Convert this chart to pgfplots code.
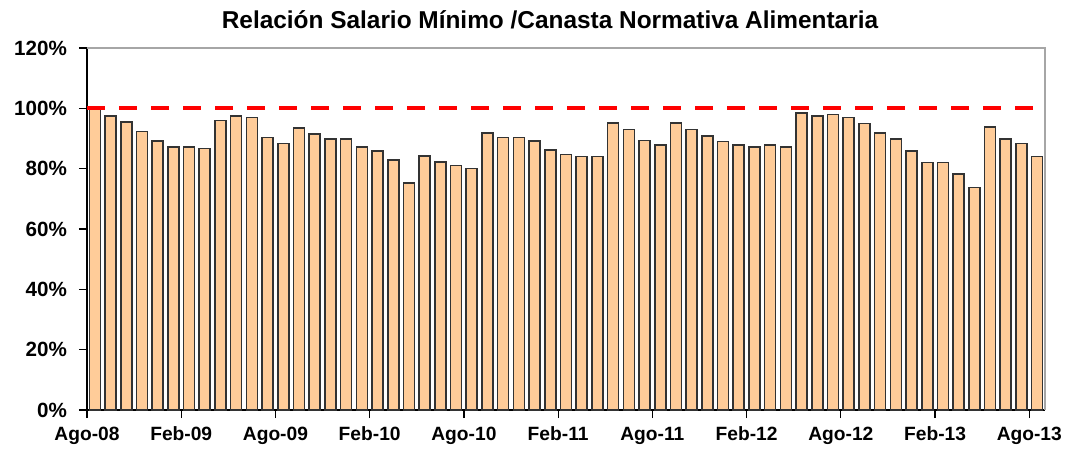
\documentclass[border=0pt]{standalone}
\usepackage{fontspec}
\setmainfont{Liberation Sans}
\usepackage{pgfplots}
\pgfplotsset{compat=1.18}
\definecolor{barfill}{HTML}{FFCC99}
\definecolor{baredge}{HTML}{333333}
\begin{document}
\begin{tikzpicture}
\useasboundingbox (-43.5pt,-20.5pt) rectangle (493.5pt,205pt);
\begin{axis}[
  at={(0,0)}, anchor=south west,
  scale only axis, width=479pt, height=181pt,
  xmin=-0.5, xmax=60.5, ymin=0, ymax=120,
  axis x line*=bottom, axis y line*=left,
  axis line style={black, line width=0.7pt, -},
  xtick={-0.5,5.5,...,59.5},
  xticklabels={Ago-08,Feb-09,Ago-09,Feb-10,Ago-10,Feb-11,Ago-11,Feb-12,Ago-12,Feb-13,Ago-13},
  ytick={0,20,...,120},
  yticklabel={\pgfmathprintnumber{\tick}\%},
  /pgf/number format/assume math mode=true,
  xticklabel style={font=\fontsize{9.6}{11}\selectfont\bfseries, yshift=-1pt},
  yticklabel style={font=\fontsize{10.3}{12}\selectfont\bfseries, xshift=-2.5pt},
  tick align=outside, major tick length=4pt,
  tick style={black, line width=0.6pt},
  xtick pos=bottom, ytick pos=left,
  clip=false,
]
\draw[gray!70, line width=0.6pt] (rel axis cs:0,1) -- (rel axis cs:1,1) -- (rel axis cs:1,0);
\addplot[ybar, bar width=5.5pt, fill=barfill, draw=baredge, line width=0.8pt] coordinates {
(0,99.6)(1,97.5)(2,95.4)(3,92.3)(4,89.2)(5,87.2)(6,87.2)(7,86.7)(8,96.0)(9,97.5)
(10,97.0)(11,90.3)(12,88.3)(13,93.4)(14,91.4)(15,89.8)(16,89.8)(17,87.2)(18,85.8)(19,82.8)
(20,75.3)(21,84.2)(22,82.2)(23,81.1)(24,80.0)(25,91.9)(26,90.3)(27,90.3)(28,89.2)(29,86.2)
(30,84.7)(31,84.1)(32,84.1)(33,95.1)(34,93.0)(35,89.3)(36,87.8)(37,95.1)(38,93.0)(39,90.9)
(40,89.0)(41,87.8)(42,87.2)(43,87.8)(44,87.2)(45,98.5)(46,97.5)(47,98.0)(48,97.0)(49,95.0)
(50,91.9)(51,89.8)(52,85.8)(53,82.1)(54,82.1)(55,78.3)(56,73.8)(57,93.9)(58,89.8)(59,88.3)
(60,84.1)
};
\addplot[red, line width=2pt, dash pattern=on 9pt off 7pt, forget plot] coordinates {(-0.5,100)(60.5,100)};
\end{axis}
\node[anchor=base, font=\fontsize{12.2}{14}\selectfont\bfseries] at (231.5pt,190.5pt) {Relación Salario Mínimo /Canasta Normativa Alimentaria};
\end{tikzpicture}
\end{document}
